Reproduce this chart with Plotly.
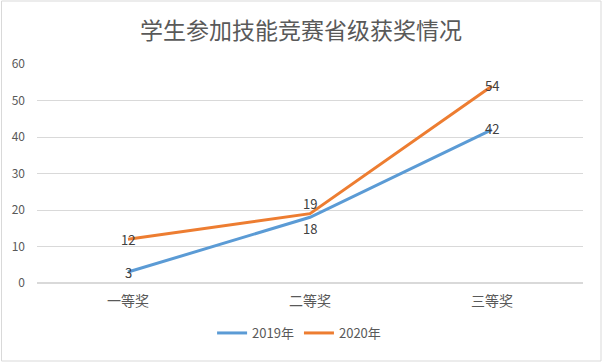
import plotly.graph_objects as go

categories = ["一等奖", "二等奖", "三等奖"]
series_names = ["2019年", "2020年"]
values_2019 = [3, 18, 42]
values_2020 = [12, 19, 54]
y_ticks = [0, 10, 20, 30, 40, 50, 60]

font_family = "Noto Sans CJK SC, Noto Sans, sans-serif"
gray = "#595959"
label_color = "#404040"

fig = go.Figure()
fig.add_trace(go.Scatter(
    x=categories, y=values_2019, name=series_names[0], mode="lines",
    line=dict(color="#5B9BD5", width=3), hoverinfo="skip",
))
fig.add_trace(go.Scatter(
    x=categories, y=values_2020, name=series_names[1], mode="lines",
    line=dict(color="#ED7D31", width=3), hoverinfo="skip",
))

# data labels (offsets in px: 2019 "18" below, 2020 "19" above)
shifts_2019 = [0, -11, 1]
shifts_2020 = [0, 10, 0]
annotations = []
for cat, v, s in zip(categories, values_2019, shifts_2019):
    annotations.append(dict(x=cat, y=v, text=str(v), showarrow=False, yshift=s,
                            font=dict(size=13, color=label_color, family=font_family)))
for cat, v, s in zip(categories, values_2020, shifts_2020):
    annotations.append(dict(x=cat, y=v, text=str(v), showarrow=False, yshift=s,
                            font=dict(size=13, color=label_color, family=font_family)))

fig.update_layout(
    width=602, height=362,
    paper_bgcolor="white", plot_bgcolor="white",
    margin=dict(l=37, r=19, t=64, b=79),
    title=dict(text="学生参加技能竞赛省级获奖情况", x=0.5, xanchor="center",
               y=1 - 31 / 362, yanchor="middle",
               font=dict(size=23, color=gray, family=font_family)),
    font=dict(family=font_family, color=gray, size=12),
    showlegend=True,
    legend=dict(orientation="h", x=0.48, xanchor="center", y=-50 / 219, yanchor="middle",
                font=dict(size=13, color=gray)),
    xaxis=dict(showgrid=False, showline=False, zeroline=False, ticks="",
               tickfont=dict(size=14, color=gray), range=[-0.5, 2.5],
               ticklabelstandoff=8),
    yaxis=dict(range=[0, 60], tickvals=y_ticks, showgrid=True, gridcolor="#D9D9D9",
               gridwidth=1, zeroline=True, zerolinecolor="#D9D9D9", showline=False,
               tickfont=dict(size=12, color=gray), ticklabelstandoff=11),
    annotations=annotations,
    shapes=[dict(type="rect", xref="paper", yref="paper", x0=-35.5/546, x1=1+18/546,
                 y0=-78/219, y1=1+63/219, line=dict(color="#D9D9D9", width=1))],
)

fig.write_html("out.html", config={"displayModeBar": False},
               post_script="document.body.style.margin='0';")
